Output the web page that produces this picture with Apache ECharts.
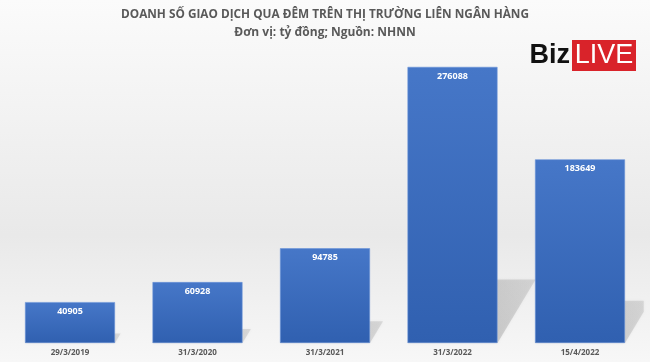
<!DOCTYPE html>
<html><head><meta charset="utf-8">
<script src="https://cdn.jsdelivr.net/npm/echarts@6/dist/echarts.min.js"></script>
<style>html,body{margin:0;padding:0;}#c{width:650px;height:362px;}</style>
</head><body><div id="c"></div>
<script>
const categories = ['29/3/2019', '31/3/2020', '31/3/2021', '31/3/2022', '15/4/2022'];
const values = [40905, 60928, 94785, 276088, 183649];
const titleText = 'DOANH SỐ GIAO DỊCH QUA ĐÊM TRÊN THỊ TRƯỜNG LIÊN NGÂN HÀNG';
const subtitleText = 'Đơn vị: tỷ đồng; Nguồn: NHNN';

const chart = echarts.init(document.getElementById('c'));

function renderShadow(params, api) {
  const base = api.coord([api.value(0), 0]);
  const top = api.coord([api.value(0), api.value(1)]);
  const w = api.size([1, 0])[0] * 0.7056;
  const cs = params.coordSys;
  const R = cs.x + cs.width;
  const h = base[1] - top[1];
  const dy = h * 0.23;
  const dx = dy * 0.6;
  const xL = base[0] - w / 2, xR = base[0] + w / 2, yb = base[1], yt = yb - dy;
  let pts;
  if (xR + dx > R) {
    const yI = yb - (R - xR) / dx * dy;
    pts = [[xL, yb], [xR, yb], [R, yI], [R, yt], [Math.min(xL + dx, R), yt]];
  } else {
    pts = [[xL, yb], [xR, yb], [xR + dx, yt], [xL + dx, yt]];
  }
  return {
    type: 'polygon', shape: {points: pts},
    style: {
      fill: new echarts.graphic.LinearGradient(0, 1, 1, 0, [
        {offset: 0, color: 'rgba(120,120,120,0.45)'}, {offset: 1, color: 'rgba(150,150,150,0.25)'}
      ]),
      shadowBlur: 3, shadowColor: 'rgba(120,120,120,0.3)'
    }
  };
}

chart.setOption({
  backgroundColor: new echarts.graphic.LinearGradient(0, 0, 0, 1, [
    {offset: 0, color: '#fbfbfb'}, {offset: 0.65, color: '#e9e9e9'}, {offset: 1, color: '#f7f7f7'}
  ]),
  title: {
    text: titleText, subtext: subtitleText, left: 'center', top: 4, itemGap: 6,
    textStyle: {fontFamily: 'Open Sans', fontWeight: 'bold', fontSize: 11.8, color: '#595959'},
    subtextStyle: {fontFamily: 'Open Sans', fontWeight: 'bold', fontSize: 12, color: '#595959'}
  },
  graphic: [
    {type: 'rect', shape: {x: 572, y: 40, width: 64, height: 31}, style: {fill: '#d9232a'}},
    {type: 'text', style: {text: 'Biz', x: 570, y: 56, align: 'right', verticalAlign: 'middle', font: 'bold 27px "Liberation Sans"', fill: '#111'}},
    {type: 'text', style: {text: 'LIVE', x: 604, y: 56, align: 'center', verticalAlign: 'middle', font: '27px "Liberation Sans"', fill: '#fff'}}
  ],
  grid: {left: 6.25, right: 6.25, top: 43, bottom: 19},
  xAxis: {
    type: 'category', data: categories,
    axisLine: {show: false}, axisTick: {show: false},
    axisLabel: {fontFamily: 'Open Sans', fontWeight: 'bold', fontSize: 8, color: '#595959', margin: 6}
  },
  yAxis: {type: 'value', min: 0, max: 300000, show: false, splitLine: {show: false}},
  series: [{
    type: 'custom', data: values.map((v, i) => [i, v]), renderItem: renderShadow,
    z: 1, silent: true, encode: {x: 0, y: 1}
  }, {
    type: 'bar', data: values, barWidth: 90, z: 2,
    itemStyle: {
      color: new echarts.graphic.LinearGradient(0, 0, 0, 1, [
        {offset: 0, color: '#4677c8'}, {offset: 1, color: '#3060b0'}
      ]),
      borderColor: '#6a94d8', borderWidth: 0.6
    },
    label: {
      show: true, position: 'insideTop', distance: 5,
      fontFamily: 'Open Sans', fontWeight: 'bold', fontSize: 9, color: '#fff'
    }
  }]
});
</script></body></html>
